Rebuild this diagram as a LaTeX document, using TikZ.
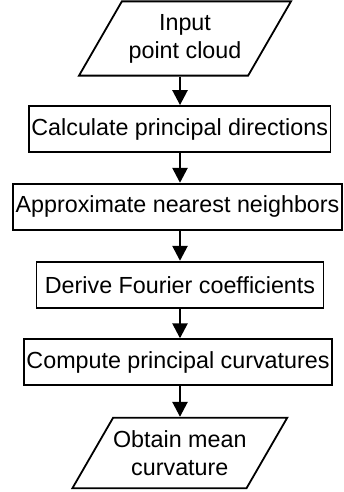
\documentclass[tikz,border=0pt]{standalone}
\usepackage{fontspec}
\setmainfont{Liberation Sans}
\usetikzlibrary{shapes.geometric, arrows.meta}

\begin{document}
\begin{tikzpicture}[x = 1pt, y = 1pt,
  every node/.style = {font = \fontsize{23.3}{28}\selectfont},
  stepbox/.style = {draw = black, line width = 1.8pt, minimum height = 46pt, inner xsep = 2.5pt},
  iobox/.style = {draw = black, line width = 1.8pt, trapezium, trapezium left angle = 60,
    trapezium right angle = 120, trapezium stretches body, minimum width = 212pt,
    inner xsep = 0pt, inner ysep = 12.7pt, align = center},
  flow/.style = {line width = 2.6pt, -{Triangle[length = 15pt, width = 15pt]}}]
\useasboundingbox (0, 0) rectangle (344, -492);

\node [iobox] (input) at (185, -38.5) {Input\\point cloud};
\node [stepbox] (calc) at (179.7, -129) {Calculate principal directions};
\node [stepbox] (approx) at (177.5, -206.7) {Approximate nearest neighbors};
\node [stepbox, minimum width = 287pt] (derive) at (180, -284.7) {Derive Fourier coefficients};
\node [stepbox] (compute) at (178, -362.2) {Compute principal curvatures};
\node [iobox] (obtain) at (179.8, -453) {Obtain mean\\curvature};

% arrows all run down one line
\coordinate (axis) at (180, 0);
\path [draw, flow] (input.south -| axis) -- (calc.north -| axis);
\path [draw, flow] (calc.south -| axis) -- (approx.north -| axis);
\path [draw, flow] (approx.south -| axis) -- (derive.north -| axis);
\path [draw, flow] (derive.south -| axis) -- (compute.north -| axis);
\path [draw, flow] (compute.south -| axis) -- (obtain.north -| axis);
\end{tikzpicture}
\end{document}
